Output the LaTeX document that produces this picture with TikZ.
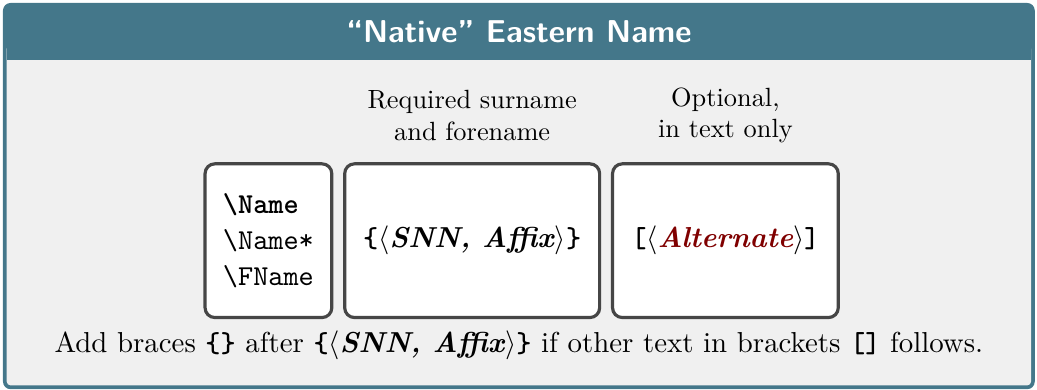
\documentclass[tikz,border=0pt,11pt]{standalone}
\usepackage{fontspec}
\usetikzlibrary{positioning}
\definecolor{titleteal}{RGB}{68,119,138}
\definecolor{bodygray}{RGB}{240,240,240}
\definecolor{boxgray}{RGB}{70,70,70}
\definecolor{altred}{RGB}{128,0,0}
\newcommand{\argmeta}[1]{$\langle$\textbf{\textit{#1}}$\rangle$}
\newcommand{\ttb}[1]{\texttt{\textbf{#1}}}

\begin{document}
\begin{tikzpicture}[
  argbox/.style={draw=boxgray, line width=1.2pt, fill=white, rounded corners=1.3mm, minimum height=2.05cm},
  note/.style={align=center, font=\small}
]
\useasboundingbox (0,0) rectangle (13.83,5.20);
\fill[titleteal, rounded corners=1mm] (0.04,0.01) rectangle (13.80,5.16);
\fill[bodygray, rounded corners=0.5mm] (0.09,0.06) rectangle (13.75,4.60);
\fill[titleteal] (0.09,4.40) rectangle (13.75,5.11);
\node[font=\large\sffamily\bfseries, text=white] (title) at (6.92,4.78) {``Native'' Eastern Name};

\node[argbox, minimum width=1.69cm, align=left, font=\ttfamily] (cmd) at (3.58,1.99)
  {\textbf{\textbackslash Name}\\\textbackslash Name*\\\textbackslash FName};
\node[argbox, minimum width=3.40cm, right=0.13cm of cmd] (req)
  {\ttb{\{}\argmeta{SNN, Affix}\ttb{\}}};
\node[argbox, minimum width=3.01cm, right=0.13cm of req] (opt)
  {\ttb{[}\argmeta{\color{altred}Alternate}\ttb{]}};

\node[note] (reqnote) at (req |- 0,3.66) {Required surname\\and forename};
\node[note] (optnote) at (opt |- 0,3.66) {Optional,\\in text only};

\node (hint) at (6.92,0.59) {Add braces \ttb{\{\}} after \ttb{\{}\argmeta{SNN, Affix}\ttb{\}}
  if other text in brackets \ttb{[]} follows.};
\end{tikzpicture}
\end{document}
